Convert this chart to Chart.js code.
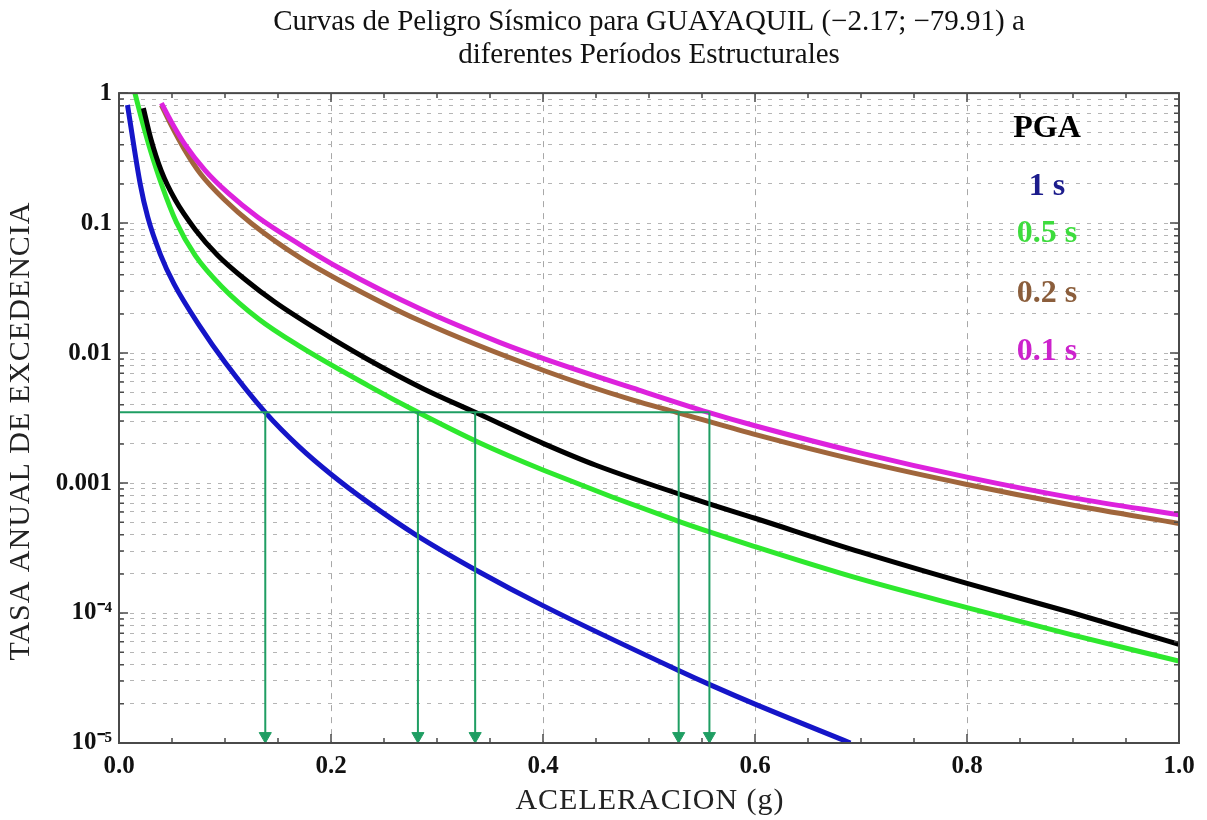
<!DOCTYPE html>
<html>
<head>
<meta charset="utf-8">
<title>Curvas de Peligro Sísmico - Guayaquil</title>
<script src="https://cdn.jsdelivr.net/npm/chart.js@4.4.1/dist/chart.umd.min.js"></script>
<style>
  html, body { margin: 0; padding: 0; background: #ffffff; }
  #wrap { width: 1207px; height: 820px; position: relative; }
</style>
</head>
<body>
<div id="wrap"><canvas id="hazardChart"></canvas></div>
<script>
/* ===========================================
   DATA
=========================================== */

// 1 s
const x1s = [0.008, 0.02, 0.027, 0.039, 0.052, 0.076, 0.1, 0.138, 0.17, 0.2, 0.235, 0.28, 0.34, 0.4, 0.53, 0.56, 0.6, 0.69];
const y1s = [0.81, 0.2, 0.112, 0.0575, 0.0339, 0.0162, 0.0085, 0.0035, 0.0019, 0.00117, 7.1e-4, 4.0e-4, 2.07e-4, 1.14e-4, 3.55e-5, 2.75e-5, 1.99e-5, 1.0e-5];

// 0.5 s
const x05s = [0.015, 0.023, 0.03, 0.04, 0.054, 0.072, 0.097, 0.132, 0.171, 0.235, 0.282, 0.34, 0.4, 0.53, 0.6, 0.7, 0.8, 0.9, 1.0];
const y05s = [1.0, 0.562, 0.355, 0.2, 0.102, 0.0562, 0.0324, 0.0182, 0.0112, 0.00562, 0.0035, 0.00204, 0.00126, 5.0e-4, 3.24e-4, 1.82e-4, 1.1e-4, 6.76e-5, 4.27e-5];

// PGA
const xPGA = [0.023, 0.03, 0.04, 0.053, 0.072, 0.093, 0.119, 0.147, 0.188, 0.234, 0.287, 0.336, 0.4, 0.45, 0.548, 0.6, 0.7, 0.8, 0.9, 1.0];
const yPGA = [0.767, 0.447, 0.251, 0.151, 0.089, 0.0566, 0.0368, 0.0247, 0.015, 0.009, 0.00532, 0.0035, 0.00202, 0.00137, 7.3e-4, 5.36e-4, 2.94e-4, 1.69e-4, 1.0e-4, 5.75e-5];

// 0.2 s
const x02s = [0.04, 0.049, 0.062, 0.077, 0.1, 0.125, 0.171, 0.209, 0.284, 0.402, 0.485, 0.526, 0.598, 0.699, 0.8, 0.899, 1.0];
const y02s = [0.809, 0.573, 0.366, 0.239, 0.15, 0.0994, 0.054, 0.0359, 0.0177, 0.00728, 0.00434, 0.0035, 0.00239, 0.00148, 9.75e-4, 6.78e-4, 4.89e-4];

// 0.1 s
const x01s = [0.04, 0.049, 0.062, 0.081, 0.103, 0.131, 0.171, 0.209, 0.284, 0.359, 0.402, 0.485, 0.556, 0.6, 0.7, 0.8, 0.9, 1.0];
const y01s = [0.838, 0.609, 0.405, 0.256, 0.17, 0.111, 0.068, 0.0445, 0.0219, 0.0121, 0.009, 0.00537, 0.0035, 0.00276, 0.0017, 0.00111, 7.69e-4, 5.7e-4];

// reference level and the accelerations read at it
const refRate = 0.0035;
const refLineEnd = 0.557;
const arrowX = [0.138, 0.282, 0.336, 0.528, 0.557];
const arrowTipRate = 1.13e-5;

// ticks
const xTickLabels = ["0.0", "0.2", "0.4", "0.6", "0.8", "1.0"];
const yDecades = [1e-5, 1e-4, 1e-3, 1e-2, 1e-1, 1];
const yTickLabels = ["10\u207B\u2075", "10\u207B\u2074", "0.001", "0.01", "0.1", "1"];

// in-plot labels
const keyLabels = ["PGA", "1 s", "0.5 s", "0.2 s", "0.1 s"];
const keyColors = ["#000000", "#1c1c8c", "#3ddc3d", "#8b5e3c", "#cc22cc"];

const xTitle = "ACELERACION (g)";
const yTitle = "TASA ANUAL DE EXCEDENCIA";

/* ===========================================
   HELPERS
=========================================== */

const pts = (xs, ys) => xs.map((x, i) => ({ x: x, y: ys[i] }));
const isMajorX = (v) => Math.abs(v / 0.2 - Math.round(v / 0.2)) < 1e-6;
const decadeIndex = (v) => yDecades.findIndex(d => Math.abs(v / d - 1) < 1e-6);

const refColor = "#1f9e63";
const serif = "'Liberation Serif', 'Times New Roman', serif";

const curve = (label, data, color) => ({
    label: label,
    data: data,
    borderColor: color,
    borderWidth: 5,
    pointRadius: 0,
    cubicInterpolationMode: "monotone",
    fill: false
});

const refLine = (data) => ({
    data: data,
    borderColor: refColor,
    borderWidth: 2,
    pointRadius: 0,
    fill: false
});

/* ===========================================
   FRAME, INNER TICKS, AXIS TITLES AND KEY
=========================================== */

const framePlugin = {
    id: "frameTicks",
    afterDraw(chart) {
        const { ctx, chartArea: a, scales } = chart;
        ctx.save();
        ctx.strokeStyle = "#4a4a4a";
        ctx.lineWidth = 1.5;

        scales.x.ticks.forEach(t => {
            const px = scales.x.getPixelForValue(t.value);
            const len = isMajorX(t.value) ? 9 : 5;
            ctx.beginPath();
            ctx.moveTo(px, a.bottom); ctx.lineTo(px, a.bottom - len);
            ctx.moveTo(px, a.top); ctx.lineTo(px, a.top + len);
            ctx.stroke();
        });

        scales.y.ticks.forEach(t => {
            const py = scales.y.getPixelForValue(t.value);
            const len = decadeIndex(t.value) >= 0 ? 9 : 5;
            ctx.beginPath();
            ctx.moveTo(a.left, py); ctx.lineTo(a.left + len, py);
            ctx.moveTo(a.right, py); ctx.lineTo(a.right - len, py);
            ctx.stroke();
        });

        ctx.lineWidth = 2;
        ctx.strokeRect(a.left, a.top, a.right - a.left, a.bottom - a.top);

        // axis titles
        ctx.fillStyle = "#222222";
        ctx.font = "30px " + serif;
        ctx.textAlign = "center";
        ctx.textBaseline = "middle";
        ctx.letterSpacing = "1px";
        ctx.fillText(xTitle, (a.left + a.right) / 2 + 1, 801);
        ctx.save();
        ctx.translate(21, (a.top + a.bottom) / 2 + 13);
        ctx.rotate(-Math.PI / 2);
        ctx.fillText(yTitle, 0, 0);
        ctx.restore();
        ctx.letterSpacing = "0px";

        // key text
        const keyY = [36, 94, 141, 201, 259];
        ctx.font = "bold 32px " + serif;
        keyLabels.forEach((txt, i) => {
            ctx.fillStyle = keyColors[i];
            ctx.fillText(txt, a.right - 132, a.top + keyY[i]);
        });
        ctx.restore();
    }
};

/* ===========================================
   CHART
=========================================== */

const datasets = [
    refLine([{ x: 0, y: refRate }, { x: refLineEnd, y: refRate }]),
    ...arrowX.map(ax => refLine([{ x: ax, y: refRate }, { x: ax, y: 1e-5 }])),
    {
        type: "scatter",
        data: arrowX.map(ax => ({ x: ax, y: arrowTipRate })),
        pointStyle: "triangle",
        rotation: 180,
        pointRadius: 7,
        backgroundColor: refColor,
        borderColor: refColor,
        borderWidth: 1,
        clip: false
    },
    curve("0.1 s", pts(x01s, y01s), "#dd22dd"),
    curve("0.2 s", pts(x02s, y02s), "#a0663c"),
    curve("PGA", pts(xPGA, yPGA), "#000000"),
    curve("0.5 s", pts(x05s, y05s), "#2ee82e"),
    curve("1 s", pts(x1s, y1s), "#1515c8")
];

const hazardChart = new Chart(
    document.getElementById("hazardChart"),
    {
        type: "line",
        data: { datasets: datasets },
        options: {
            responsive: true,
            maintainAspectRatio: false,
            animation: false,
            layout: { padding: { left: 0, right: 28, top: 0, bottom: 0 } },
            plugins: {
                legend: { display: false },
                tooltip: { enabled: false },
                title: {
                    display: true,
                    fullSize: false,
                    text: [
                        "Curvas de Peligro Sísmico para GUAYAQUIL (\u22122.17; \u221279.91) a",
                        "diferentes Períodos Estructurales"
                    ],
                    color: "#111111",
                    font: { family: serif, size: 29, weight: "normal", lineHeight: 1.14 },
                    padding: { top: 6, bottom: 21 }
                }
            },
            scales: {
                x: {
                    type: "linear",
                    min: 0,
                    max: 1,
                    afterFit: (s) => { s.height = 77; },
                    ticks: {
                        stepSize: 0.05,
                        autoSkip: false,
                        maxRotation: 0,
                        padding: 9,
                        color: "#111111",
                        font: { family: serif, size: 25, weight: "bold" },
                        callback: (v) => isMajorX(v) ? xTickLabels[Math.round(v / 0.2)] : ""
                    },
                    grid: {
                        drawTicks: false,
                        color: (c) => (c.tick && isMajorX(c.tick.value) && c.tick.value > 0 && c.tick.value < 1) ? "#a8a8a8" : "rgba(0,0,0,0)",
                        lineWidth: 1
                    },
                    border: { display: false, dash: [6, 6] }
                },
                y: {
                    type: "logarithmic",
                    min: 1e-5,
                    max: 1,
                    afterFit: (s) => { s.width = 119; },
                    afterBuildTicks: (s) => {
                        const t = [];
                        for (let k = -5; k <= 0; k++) {
                            for (let m = 1; m <= 9; m++) {
                                const v = m * Math.pow(10, k);
                                if (v <= 1 + 1e-9) t.push({ value: k === 0 ? 1 : v });
                            }
                        }
                        s.ticks = t;
                    },
                    ticks: {
                        autoSkip: false,
                        padding: 7,
                        color: "#111111",
                        font: { family: serif, size: 25, weight: "bold" },
                        callback: (v) => {
                            const i = decadeIndex(v);
                            return i >= 0 ? yTickLabels[i] : "";
                        }
                    },
                    grid: {
                        drawTicks: false,
                        color: (c) => (c.tick && c.tick.value > 1e-5 && c.tick.value < 1) ? "#b5b5b5" : "rgba(0,0,0,0)",
                        lineWidth: 1
                    },
                    border: { display: false, dash: [4, 7] }
                }
            }
        },
        plugins: [framePlugin]
    }
);
</script>
</body>
</html>
